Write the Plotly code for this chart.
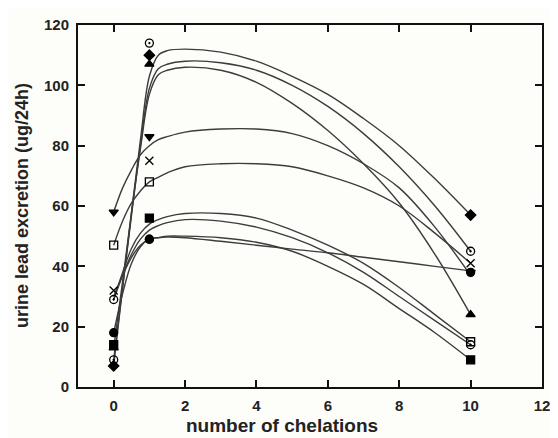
import plotly.graph_objects as go

# ---- data ----
chelations = [0, 1, 10]

diamond_vals = [7, 110, 57]
circle_open_vals = [9, 114, 45]
tri_up_vals = [13, 107, 24]
tri_down_vals = [58, 83, 38]
cross_vals = [32, 75, 41]
square_open_vals = [47, 68, 15]
square_vals = [14, 56, 9]
circle_vals = [18, 49, 38]
circle_open2_vals = [29, 49, 14]

# fitted curves, values at these x positions
curve_x = [0, 0.25, 0.5, 0.75, 1, 1.25, 1.5, 2, 3, 4, 5, 6, 7, 8, 9, 10]
curve_1 = [7, 33, 58, 82, 103, 110, 111.5, 112, 111, 108, 103, 97, 89, 80, 69, 57]
curve_2 = [9, 33, 57, 80, 99, 105.5, 107, 108, 107.5, 105, 100, 93, 84, 73, 60, 45]
curve_3 = [13, 35, 58, 79, 97, 103.5, 105, 106, 105, 101, 94, 85, 74, 61, 44, 24]
curve_4 = [58, 66, 72, 77, 80, 82, 83, 84.5, 85.5, 85.5, 84, 80, 74, 66, 53, 37]
curve_5 = [47, 55, 61, 65, 68, 69.5, 71, 73, 74, 74, 73, 70, 66, 60, 51, 41]
curve_6 = [29, 38, 46, 51, 54, 55.5, 56.5, 57.5, 57.5, 56, 52, 47, 41, 33, 24, 15]
curve_7 = [29, 37, 44, 49, 52, 53.5, 54.5, 55.5, 55, 53, 49.5, 44.5, 38, 30, 22, 14]
curve_8 = [30, 37, 43, 47, 49, 49.5, 50, 50, 49.5, 48, 45, 40, 34, 26, 18, 9]
curve_9 = [18, 31, 41, 46.5, 49, 49.5, 49.7, 49.5, 48.3, 47, 45.7, 44.5, 43, 41.5, 40, 38.5]

x_ticks = [0, 2, 4, 6, 8, 10, 12]
y_ticks = [0, 20, 40, 60, 80, 100, 120]

fig = go.Figure()

line_col = "#3c3c3c"
for c in [curve_1, curve_2, curve_3, curve_4, curve_5, curve_6, curve_7, curve_8, curve_9]:
    fig.add_trace(go.Scatter(x=curve_x, y=c, mode="lines",
                             line=dict(color=line_col, width=1.4, shape="spline", smoothing=1.0),
                             showlegend=False, hoverinfo="skip"))

series = [
    (diamond_vals, "diamond", 8),
    (circle_open_vals, "circle-open-dot", 8),
    (tri_up_vals, "triangle-up", 8),
    (tri_down_vals, "triangle-down", 8),
    (cross_vals, "x-thin-open", 8),
    (square_open_vals, "square-open", 8),
    (square_vals, "square", 8),
    (circle_vals, "circle", 8),
    (circle_open2_vals, "circle-open-dot", 8),
]
for vals, sym, sz in series:
    fig.add_trace(go.Scatter(x=chelations, y=vals, mode="markers",
                             marker=dict(symbol=sym, size=sz, color="black",
                                         line=dict(color="black", width=1.3)),
                             showlegend=False))

font_fam = "Liberation Sans, Arial, sans-serif"
title_font = dict(size=19, family=font_fam, weight="bold", color="#222")
fig.update_layout(
    width=550, height=430,
    margin=dict(l=70, r=10, t=8, b=51),
    paper_bgcolor="#fdfdfa", plot_bgcolor="#fdfdfa",
    font=dict(family=font_fam, color="#222"),
    xaxis=dict(range=[-1, 12], tickvals=x_ticks, ticks="inside", ticklen=7, tickwidth=1.5,
               tickcolor="#111", showline=True, linecolor="#111", linewidth=2, mirror="ticks",
               showgrid=False, zeroline=False, ticklabelstandoff=4,
               tickfont=dict(size=15, family=font_fam, weight="bold", color="#222")),
    yaxis=dict(range=[0, 120], tickvals=y_ticks, ticks="inside", ticklen=7, tickwidth=1.5,
               tickcolor="#111", showline=True, linecolor="#111", linewidth=2, mirror="ticks",
               showgrid=False, zeroline=False, ticklabelstandoff=4,
               tickfont=dict(size=15, family=font_fam, weight="bold", color="#222")),
    annotations=[
        dict(text="number of chelations", xref="paper", yref="paper", x=0.44, y=0,
             xanchor="center", yanchor="middle", yshift=-38, showarrow=False, font=title_font),
        dict(text="urine lead excretion (ug/24h)", xref="paper", yref="paper", x=0, y=0.5,
             xanchor="center", yanchor="middle", xshift=-56, textangle=-90, showarrow=False,
             font=dict(size=18, family=font_fam, weight="bold", color="#222")),
    ],
)

fig.write_html("out.html")
